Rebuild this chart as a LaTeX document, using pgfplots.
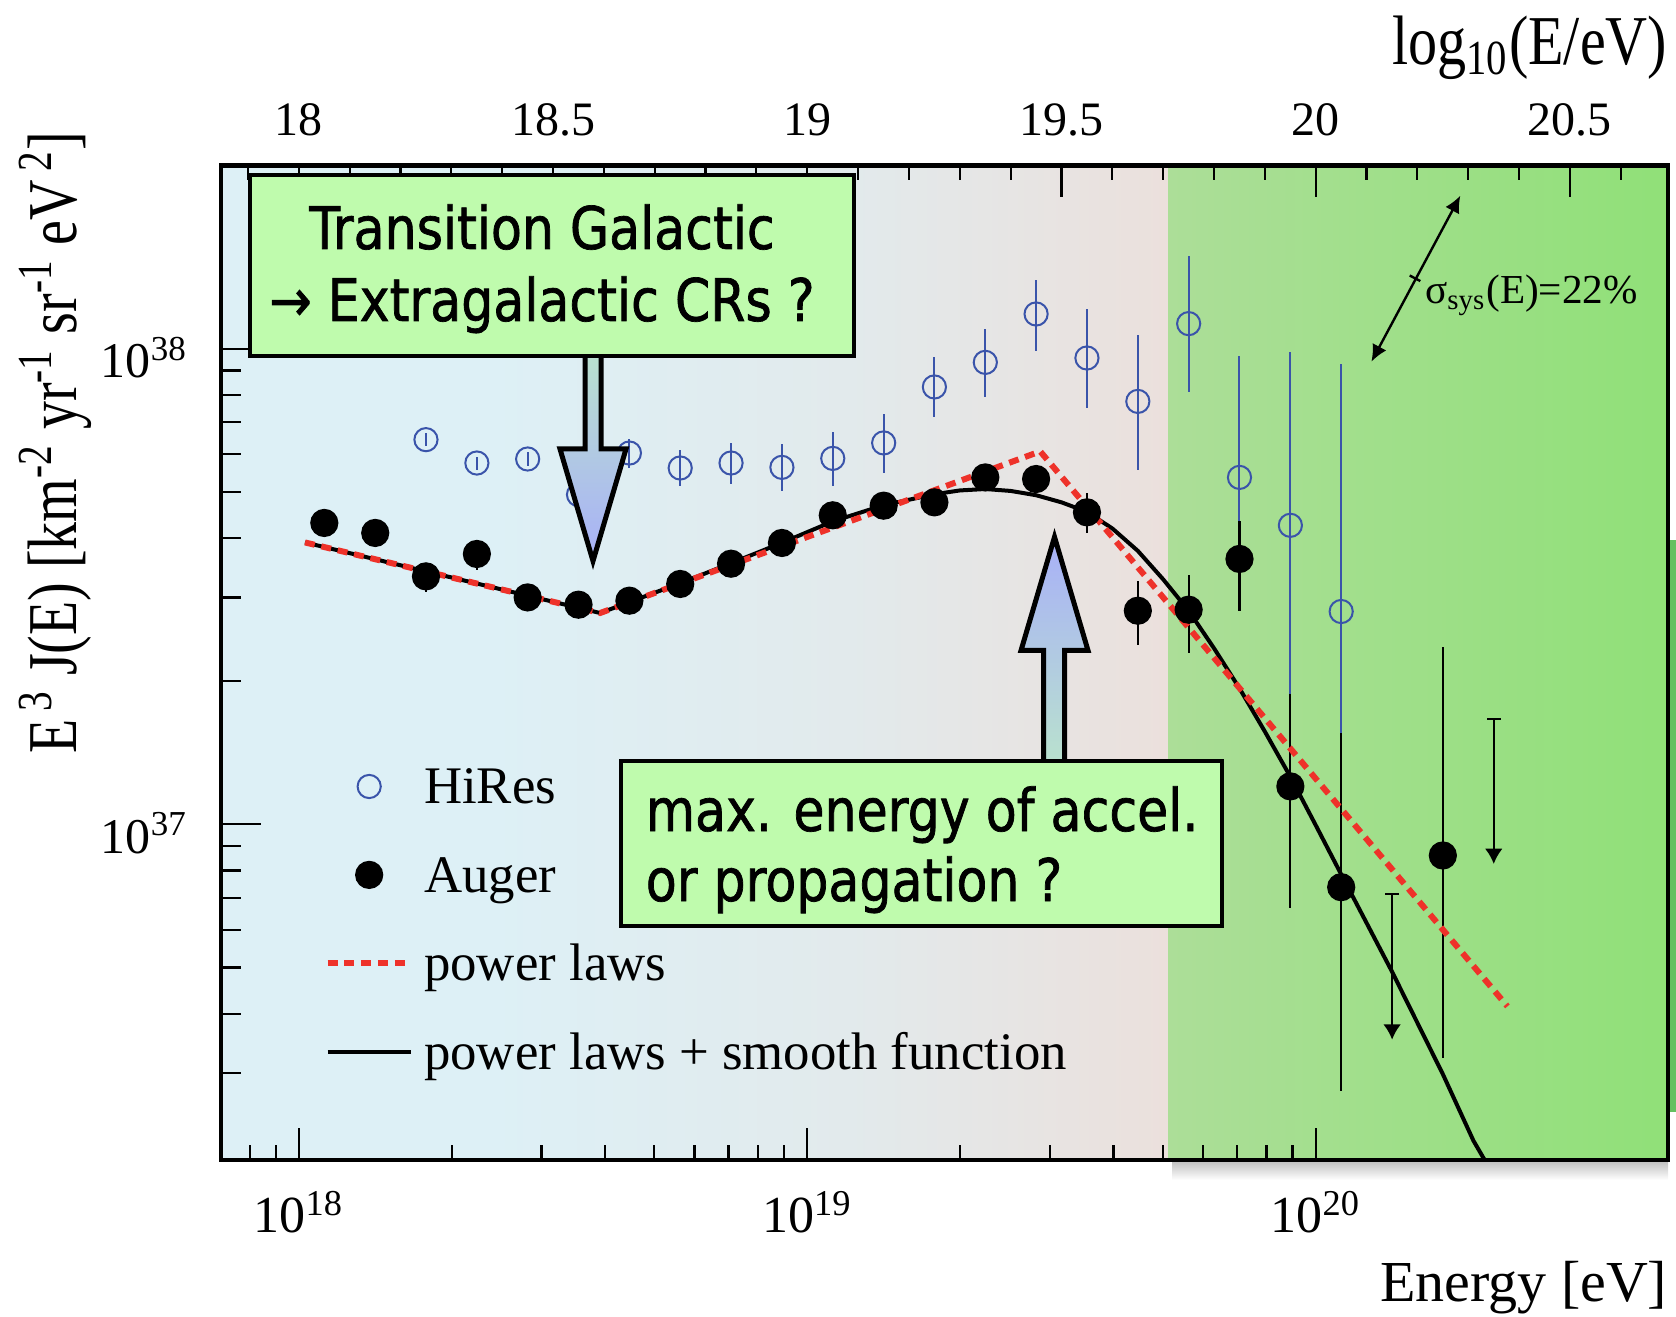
\documentclass[border=0pt]{standalone}
\usepackage{fontspec}
\setmainfont{Liberation Serif}
\newfontfamily\condserif[FakeStretch=0.8]{Liberation Serif}
\newfontfamily\toplabelfont[FakeStretch=0.83]{Liberation Serif}
\newfontfamily\boxfont[FakeStretch=0.86, FakeBold=1.2]{DejaVu Sans}
\usepackage{pgfplots}
\usepackage{pgfplotstable}
\pgfplotsset{compat=1.18}
\usetikzlibrary{arrows.meta}

\definecolor{hiresblue}{RGB}{58,84,170}
\definecolor{plred}{RGB}{238,50,42}
\definecolor{boxgreen}{RGB}{191,251,173}
\definecolor{bgblue}{RGB}{221,240,246}
\definecolor{bgmid}{RGB}{226,234,236}
\definecolor{bgpink}{RGB}{235,224,220}
\definecolor{panelA}{RGB}{172,222,152}
\definecolor{panelB}{RGB}{144,224,120}
\definecolor{panelEdge}{RGB}{100,192,96}
\definecolor{arrowgreen}{RGB}{186,228,204}
\definecolor{arrowblue}{RGB}{168,176,248}

% background of the plot area: light blue fading into a pale rose tone
\pgfdeclarehorizontalshading{bgshade}{100bp}{color(0bp)=(bgblue); color(25bp)=(bgblue); color(39bp)=(bgblue); color(58bp)=(bgmid); color(75bp)=(bgpink); color(100bp)=(bgpink)}

% Auger spectrum: energy, E^3 J(E), upper and lower error
\pgfplotstableread{
E        y         ep        em
1.122e18 4.302e37  1.14e36   1.33e36
1.413e18 4.099e37  1.18e36   1.18e36
1.778e18 3.322e37  2.22e36   2.48e36
2.239e18 3.702e37  2.65e36   2.70e36
2.818e18 3.000e37  9.0e35    8.3e35
3.548e18 2.896e37  8.3e35    7.8e35
4.467e18 2.953e37  8.1e35    7.6e35
5.623e18 3.202e37  8.7e35    8.3e35
7.079e18 3.532e37  9.9e35    9.6e35
8.913e18 3.905e37  1.13e36   1.12e36
1.122e19 4.464e37  1.39e36   1.39e36
1.413e19 4.677e37  1.65e36   1.58e36
1.778e19 4.753e37  1.90e36   1.82e36
2.239e19 5.363e37  2.35e36   2.23e36
2.818e19 5.321e37  2.64e36   2.51e36
3.548e19 4.529e37  4.45e36   4.30e36
4.467e19 2.813e37  4.31e36   4.26e36
5.623e19 2.827e37  5.22e36   5.34e36
7.079e19 3.614e37  7.21e36   8.10e36
8.913e19 1.202e37  6.77e36   5.36e36
1.122e20 7.379e36  8.20e36   4.625e36
1.778e20 8.603e36  1.503e37  5.376e36
}\auger

% HiRes spectrum
\pgfplotstableread{
E        y         ep        em
1.778e18 6.438e37  1.99e36   2.01e36
2.239e18 5.750e37  1.79e36   1.78e36
2.818e18 5.863e37  1.90e36   1.88e36
3.548e18 4.933e37  2.07e36   2.01e36
4.467e18 6.035e37  4.25e36   4.22e36
5.623e18 5.613e37  5.22e36   4.61e36
7.079e18 5.750e37  5.85e36   5.48e36
8.913e18 5.630e37  6.76e36   6.18e36
1.122e19 5.880e37  7.88e36   7.28e36
1.413e19 6.337e37  9.54e36   8.58e36
1.778e19 8.309e37  1.298e37  1.124e37
2.239e19 9.359e37  1.641e37  1.455e37
2.818e19 1.183e38  2.13e37   1.96e37
3.548e19 9.559e37  2.581e37  2.051e37
4.467e19 7.749e37  2.951e37  2.20e37
5.623e19 1.129e38  4.34e37   3.199e37
7.079e19 5.363e37  4.298e37  2.201e37
8.913e19 4.253e37  5.569e37  2.668e37
1.122e20 2.802e37  6.484e37  1.802e37
}\hires

\begin{document}
\begin{tikzpicture}
% helper frame: 1 unit = 0.25pt, origin at the lower-left corner of the plot box
\begin{scope}[x=0.25pt, y=-0.25pt, shift={(-221,-1160)}]
  \path[use as bounding box] (0,0) rectangle (1676,1316);
  % soft shadow below the green panel
  \fill[top color=black!25, bottom color=white] (1172,1161) rectangle (1668,1180);
  \fill[panelEdge] (1669,540) rectangle (1676,1112);
\end{scope}

\begin{axis}[
  at={(0pt,0pt)}, anchor=south west,
  scale only axis, width=361.75pt, height=248.625pt,
  xmode=log, ymode=log,
  xmin=7.031e17, xmax=4.932e20,
  ymin=1.972e36, ymax=2.43e38,
  axis on top,
  axis line style={line width=1.1pt},
  tick align=inside,
  xtick pos=bottom, ytick pos=left,
  xtick={1e18,1e19,1e20},
  xticklabels={10\textsuperscript{18},10\textsuperscript{19},10\textsuperscript{20}},
  minor xtick={8e17,9e17,2e18,3e18,4e18,5e18,6e18,7e18,8e18,9e18,2e19,3e19,4e19,5e19,6e19,7e19,8e19,9e19},
  ytick={1e37,1e38},
  yticklabels={10\textsuperscript{37},10\textsuperscript{38}},
  minor ytick={3e36,4e36,5e36,6e36,7e36,8e36,9e36,2e37,3e37,4e37,5e37,6e37,7e37,8e37,9e37},
  major tick style={line width=0.55pt, black},
  minor tick style={line width=0.55pt, black},
  major tick length=8pt, minor tick length=3.75pt,
  ytick style={/pgfplots/major tick length=10pt, /pgfplots/minor tick length=5pt},
  xticklabel style={font=\fontsize{13}{15}\selectfont, anchor=base, yshift=-18.25pt},
  yticklabel style={font=\fontsize{12.5}{15}\selectfont, anchor=base east, xshift=-4.8pt, yshift=-7.2pt},
  xlabel={Energy [eV]},
  xlabel style={at={(axis description cs:1,0)}, anchor=base east, yshift=-35.4pt, inner sep=0pt, font=\fontsize{14.5}{16}\selectfont},
  ylabel={E\textsuperscript{\,3} J(E) [km\textsuperscript{-2} yr\textsuperscript{-1} sr\textsuperscript{-1} eV\textsuperscript{\,2}]},
  ylabel style={at={(axis description cs:-0.1147,0.721)}, anchor=center, inner sep=0pt, font=\condserif\fontsize{17.5}{19}\selectfont},
  legend style={at={(0.0715,0.4198)}, anchor=north west, draw=none, fill=none,
    inner sep=0pt, outer sep=0pt, row sep=0pt,
    font=\fontsize{13.2}{15}\selectfont,
    nodes={inner sep=0pt, text height=15.4pt, text depth=6.7pt},
    /tikz/every odd column/.append style={column sep=2.6pt}},
  legend cell align=left,
  legend image code/.code={\draw[mark repeat=2,mark phase=2,#1] plot coordinates {(0pt,0pt)(10.4pt,0pt)(20.8pt,0pt)};},
]
% plot-area background and the green high-energy panel
\fill[shading=bgshade] (axis cs:7.031e17,1.972e36) rectangle (axis cs:5.135e19,2.43e38);
\fill[left color=panelA, right color=panelB] (axis cs:5.135e19,1.972e36) rectangle (axis cs:4.932e20,2.43e38);

\addplot[only marks, mark=o, mark size=2.9pt, hiresblue, line width=0.5pt,
  error bars/.cd, y dir=both, y explicit, error mark=none,
  error bar style={line width=0.5pt, hiresblue}]
  table[x=E, y=y, y error plus=ep, y error minus=em] {\hires};
\addlegendentry{HiRes}

\addplot[only marks, mark=*, mark size=3.25pt, black, line width=0.55pt,
  error bars/.cd, y dir=both, y explicit, error mark=none,
  error bar style={line width=0.55pt, black}]
  table[x=E, y=y, y error plus=ep, y error minus=em] {\auger};
\addlegendentry{Auger}

% Auger upper limits
\addplot[forget plot, black, line width=0.55pt, -{Latex[length=3.8pt,width=4.4pt]},
  mark=-, mark size=1.75pt, mark indices={1}]
  coordinates {(1.413e20,7.129e36) (1.413e20,3.527e36)};
\addplot[forget plot, black, line width=0.55pt, -{Latex[length=3.8pt,width=4.4pt]},
  mark=-, mark size=1.75pt, mark indices={1}]
  coordinates {(2.239e20,1.668e37) (2.239e20,8.257e36)};

% power laws + smooth suppression
\addplot[forget plot, black, line width=1pt, line join=round] coordinates {
  (1.028e18,3.915e37) (3.913e18,2.782e37) (5.623e18,3.214e37) (7.079e18,3.540e37)
  (8.913e18,3.908e37) (1.122e19,4.335e37) (1.413e19,4.688e37) (1.778e19,4.943e37)
  (1.995e19,5.035e37) (2.239e19,5.070e37) (2.512e19,5.023e37) (2.818e19,4.920e37)
  (3.162e19,4.753e37) (3.548e19,4.539e37) (3.981e19,4.188e37) (4.467e19,3.758e37)
  (5.012e19,3.273e37) (5.623e19,2.812e37) (6.310e19,2.344e37) (7.079e19,1.932e37)
  (7.943e19,1.567e37) (8.913e19,1.259e37) (1.000e20,9.954e36) (1.122e20,7.852e36)
  (1.413e20,4.898e36) (1.778e20,2.985e36) (2.042e20,2.163e36) (2.188e20,1.905e36)
};

% broken power laws
\addplot[plred, line width=1.5pt, dash pattern=on 2.5pt off 1.7pt] coordinates {
  (1.028e18,3.915e37) (3.913e18,2.782e37) (2.871e19,6.083e37) (2.382e20,4.144e36)
};
\addlegendentry{power laws}
\addlegendimage{black, line width=1pt}
\addlegendentry{power laws + smooth function}
\end{axis}

% upper scale: log10 of the energy
\begin{axis}[
  at={(0pt,0pt)}, anchor=south west,
  scale only axis, width=361.75pt, height=248.625pt,
  xmin=17.847, xmax=20.693, ymin=0, ymax=1,
  hide y axis,
  axis line style={line width=1.1pt},
  tick align=inside,
  xtick pos=top, xticklabel pos=top,
  xtick={18,18.5,19,19.5,20,20.5},
  xticklabels={18,18.5,19,19.5,20,20.5},
  minor xtick={17.9,18.1,18.2,18.3,18.4,18.6,18.7,18.8,18.9,19.1,19.2,19.3,19.4,19.6,19.7,19.8,19.9,20.1,20.2,20.3,20.4,20.6},
  major tick style={line width=0.55pt, black},
  minor tick style={line width=0.55pt, black},
  major tick length=8pt, minor tick length=3.75pt,
  xticklabel style={font=\fontsize{12}{14}\selectfont, anchor=base, yshift=7.5pt},
  xlabel={log\textsubscript{10}(E/eV)},
  xlabel style={at={(axis description cs:1,1)}, anchor=base east, yshift=25.25pt, inner sep=0pt, font=\toplabelfont\fontsize{17.5}{19}\selectfont},
]
\end{axis}

% annotations
\begin{scope}[x=0.25pt, y=-0.25pt, shift={(-221,-1160)}]
  \draw[line width=1.25pt, miter limit=10, top color=arrowgreen, bottom color=arrowblue]
    (585,340) -- (585,449) -- (560,449) -- (593,561) -- (626,449) -- (601,449) -- (601,340) -- cycle;
  \draw[line width=1.25pt, miter limit=10, top color=arrowblue, bottom color=arrowgreen]
    (1043.5,775) -- (1043.5,650.5) -- (1021,650.5) -- (1054.5,537) -- (1088,650.5) -- (1064.5,650.5) -- (1064.5,775) -- cycle;

  \filldraw[fill=boxgreen, line width=0.8pt] (250,175) rectangle (854,356);
  \node[inner sep=0pt, anchor=base, font=\boxfont\fontsize{14.7}{17}\selectfont] at (542,249) {Transition Galactic};
  \node[inner sep=0pt, anchor=base, font=\boxfont\fontsize{14.7}{17}\selectfont] at (542,321) {→ Extragalactic CRs ?};

  \filldraw[fill=boxgreen, line width=0.8pt] (621,761) rectangle (1222,926);
  \node[inner sep=0pt, anchor=base west, font=\boxfont\fontsize{14.7}{17}\selectfont] at (645,831) {max. energy of accel.};
  \node[inner sep=0pt, anchor=base west, font=\boxfont\fontsize{14.7}{17}\selectfont] at (645,901) {or propagation ?};

  \draw[line width=0.6pt, {Latex[length=4.2pt,width=3.9pt]}-{Latex[length=4.2pt,width=3.9pt]}] (1371.4,361.7) -- (1460.3,195.7);
  \draw[line width=0.6pt] (1409.7,275.5) -- (1420.3,281.1);
  \node[inner sep=0pt, anchor=base west, font=\fontsize{10.3}{12}\selectfont] at (1424.4,304) {σ\textsubscript{sys}(E)=22\%};
\end{scope}
\end{tikzpicture}
\end{document}
